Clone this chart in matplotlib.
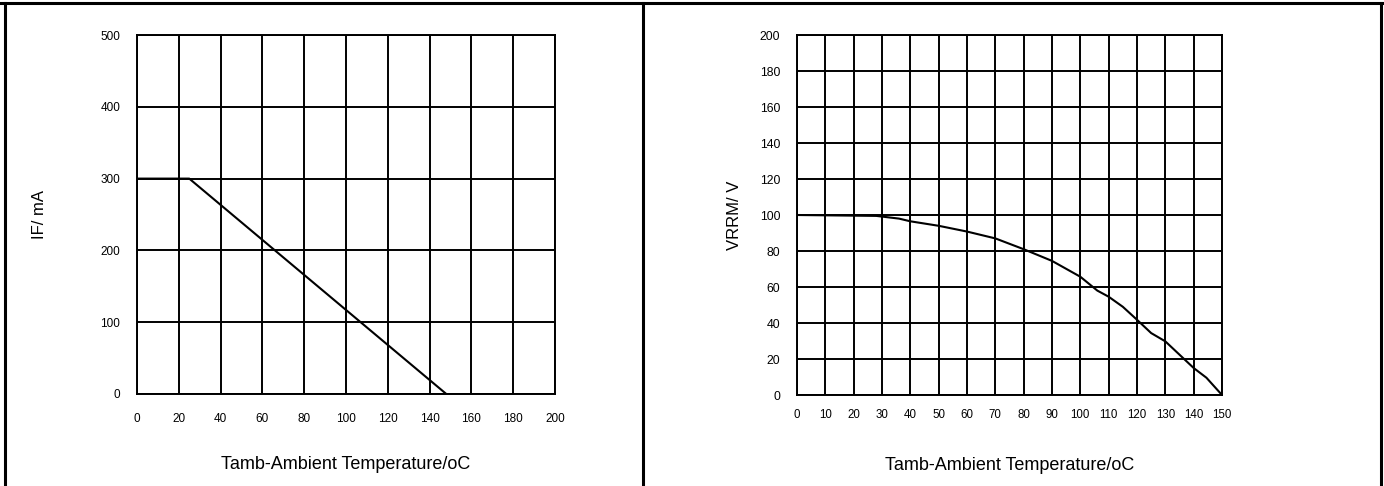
import matplotlib
matplotlib.use("Agg")
import matplotlib.pyplot as plt
from matplotlib.lines import Line2D
import numpy as np

plt.rcParams['font.family'] = ['Liberation Sans', 'DejaVu Sans']

# forward current derating
if_temp = [0, 25, 148]
if_current = [300, 300, 0]
if_xticks = list(range(0, 201, 20))
if_yticks = list(range(0, 501, 100))

# reverse voltage derating
vr_temp = [0, 28, 36, 40, 50, 60, 70, 80, 90, 100, 106, 110, 115, 120, 125, 130, 135, 140, 144.5, 150]
vr_volt = [100, 99.5, 98, 96.5, 94, 90.8, 87, 81, 74.5, 65.7, 58, 54.6, 49, 41.8, 34.4, 29.8, 22.4, 15, 9.6, 0]
vr_xticks = list(range(0, 151, 10))
vr_yticks = list(range(0, 201, 20))

W, H = 1384, 486
fig = plt.figure(figsize=(W / 100, H / 100), dpi=100)


def px_axes(left, top, right, bottom):
    return fig.add_axes([left / W, 1 - bottom / H, (right - left) / W, (bottom - top) / H])


def style(ax, xticks, yticks, xfs, yfs, xpad):
    ax.set_xlim(xticks[0], xticks[-1])
    ax.set_ylim(yticks[0], yticks[-1])
    ax.set_xticks(xticks)
    ax.set_yticks(yticks)
    ax.grid(True, color='black', linewidth=1.4)
    ax.set_axisbelow(True)
    ax.tick_params(length=0, labelsize=xfs, axis='x', pad=xpad)
    ax.tick_params(length=0, labelsize=yfs, axis='y', pad=12)
    for s in ax.spines.values():
        s.set_linewidth(1.4)
        s.set_color('black')


ax1 = px_axes(137, 35, 555, 394)
ax1.plot(if_temp, if_current, color='black', linewidth=1.5)
style(ax1, if_xticks, if_yticks, 8.5, 8.5, 14)
ax1.set_xlabel('Tamb-Ambient Temperature/oC', fontsize=13, labelpad=22)
ax1.set_ylabel('IF/ mA', fontsize=12)
ax1.yaxis.set_label_coords(-0.215, 0.5)

ax2 = px_axes(797, 35, 1222, 395)
ax2.plot(vr_temp, vr_volt, color='black', linewidth=1.5)
style(ax2, vr_xticks, vr_yticks, 8.3, 8.8, 10)
ax2.set_xlabel('Tamb-Ambient Temperature/oC', fontsize=13, labelpad=26)
ax2.set_ylabel('VRRM/ V', fontsize=12)
ax2.yaxis.set_label_coords(-0.13, 0.5)

# table border around the two panels
for xs, ys in [([0, W], [H - 3, H - 3]), ([5, 5], [0, H - 3]),
               ([643, 643], [0, H - 3]), ([1381, 1381], [0, H - 3])]:
    fig.add_artist(Line2D(np.array(xs) / W, np.array(ys) / H, color='black',
                          linewidth=2.2, transform=fig.transFigure))

fig.savefig('out.png', dpi=100)
